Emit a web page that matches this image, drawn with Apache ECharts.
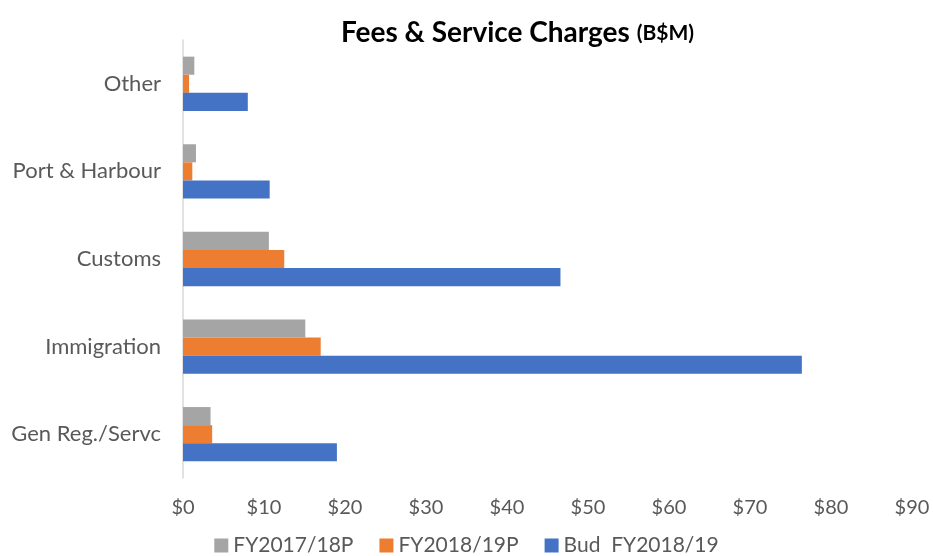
<!DOCTYPE html>
<html>
<head>
<meta charset="utf-8">
<script src="https://cdn.jsdelivr.net/npm/echarts@6/dist/echarts.min.js"></script>
<style>
  html, body { margin: 0; padding: 0; background: #fff; }
  #main { width: 933px; height: 556px; }
</style>
</head>
<body>
<div id="main"></div>
<script>
// categories listed bottom to top
const categories = ['Gen Reg./Servc', 'Immigration', 'Customs', 'Port & Harbour', 'Other']
const fy1718 = [3.4, 15.1, 10.6, 1.6, 1.4]
const fy1819 = [3.6, 17.0, 12.5, 1.15, 0.75]
const bud1819 = [19.0, 76.4, 46.6, 10.7, 8.0]
const xTicks = [0, 10, 20, 30, 40, 50, 60, 70, 80, 90]

const font = 'Lato'
const chart = echarts.init(document.getElementById('main'))

const option = {
  animation: false,
  title: {
    text: '{a|Fees & Service Charges }{b|(B$M)}',
    left: 336,
    top: 14,
    textStyle: {
      rich: {
        a: { fontFamily: font, fontSize: 28, fontWeight: 'bold', color: '#000' },
        b: { fontFamily: font, fontSize: 21, fontWeight: 'bold', color: '#000' }
      }
    }
  },
  legend: {
    top: 530,
    left: 'center',
    itemWidth: 14,
    itemHeight: 14,
    itemGap: 26,
    icon: 'rect',
    textStyle: { fontFamily: font, fontSize: 21, color: '#595959' },
    data: ['FY2017/18P', 'FY2018/19P', 'Bud  FY2018/19']
  },
  grid: { left: 183, right: 21, top: 40, bottom: 78 },
  xAxis: {
    type: 'value',
    min: xTicks[0],
    max: xTicks[xTicks.length - 1],
    interval: 10,
    axisLine: { show: false },
    axisTick: { show: false },
    splitLine: { show: false },
    axisLabel: {
      margin: 20,
      fontFamily: font,
      fontSize: 20,
      color: '#595959',
      formatter: v => '$' + v
    }
  },
  yAxis: {
    type: 'category',
    data: categories,
    axisLine: { show: true, lineStyle: { color: '#d9d9d9', width: 1.5 } },
    axisTick: { show: false },
    axisLabel: { margin: 22, fontFamily: font, fontSize: 22, color: '#595959' }
  },
  series: [
    { name: 'FY2017/18P', type: 'bar', data: fy1718, itemStyle: { color: '#a5a5a5' }, barGap: '0%', barCategoryGap: '38%' },
    { name: 'FY2018/19P', type: 'bar', data: fy1819, itemStyle: { color: '#ed7d31' } },
    { name: 'Bud  FY2018/19', type: 'bar', data: bud1819, itemStyle: { color: '#4472c4' } }
  ]
}

chart.setOption(option)
</script>
</body>
</html>
